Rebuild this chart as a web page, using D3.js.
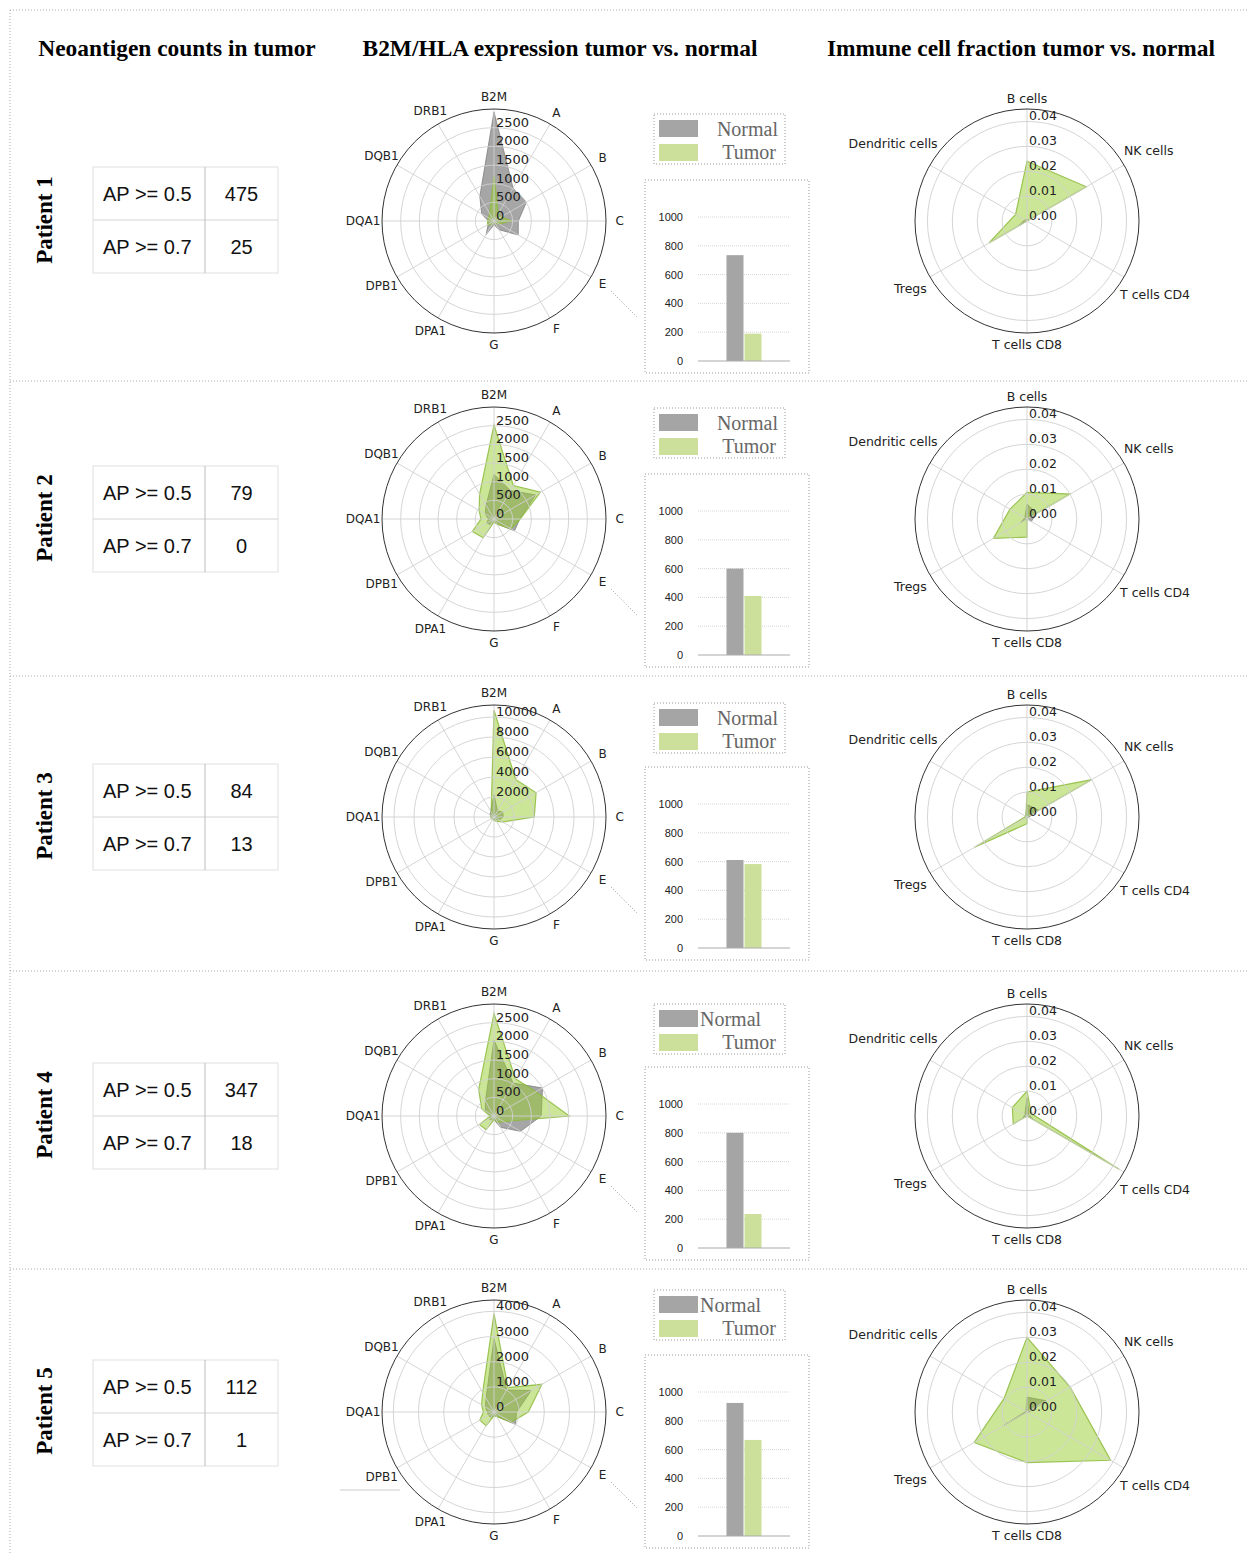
<!DOCTYPE html>
<html>
<head>
<meta charset="utf-8">
<script src="https://cdn.jsdelivr.net/npm/d3@7"></script>
<style>
  body { margin: 0; background: #fff; }
  svg { display: block; }
</style>
</head>
<body>
<svg id="chart" width="1250" height="1554"></svg>
<script>
// ---- data ----
const patients = ["Patient 1", "Patient 2", "Patient 3", "Patient 4", "Patient 5"];
const apLabels = ["AP >= 0.5", "AP >= 0.7"];
const neoAp05 = [475, 79, 84, 347, 112];
const neoAp07 = [25, 0, 13, 18, 1];

const hlaGenes = ["B2M", "A", "B", "C", "E", "F", "G", "DPA1", "DPB1", "DQA1", "DQB1", "DRB1"];
const hlaNormal = [
  [2920, 1020, 1000, 650, 750, 270, 100, 420, 180, 150, 380, 760],
  [1195, 880, 1290, 690, 635, 150, 80, 180, 220, 150, 270, 425],
  [2230, 700, 1000, 930, 600, 300, 250, 200, 200, 300, 450, 650],
  [2035, 1020, 1500, 1265, 820, 350, 100, 130, 150, 100, 270, 460],
  [2920, 1010, 1710, 900, 980, 200, 150, 260, 260, 260, 400, 630]
];
const hlaTumor = [
  [1210, 230, 220, 470, 150, 80, 60, 100, 200, 170, 170, 230],
  [2520, 1035, 1435, 700, 530, 150, 80, 580, 670, 350, 460, 770],
  [10670, 4340, 4860, 4030, 1000, 500, 330, 300, 300, 330, 300, 570],
  [2745, 1150, 1300, 2020, 300, 200, 100, 425, 450, 100, 380, 820],
  [3910, 1115, 2200, 1360, 800, 200, 150, 630, 650, 420, 570, 900]
];
const hlaMax = [3000, 3000, 11200, 3000, 4450];
const hlaTicks = [
  [0, 500, 1000, 1500, 2000, 2500],
  [0, 500, 1000, 1500, 2000, 2500],
  [2000, 4000, 6000, 8000, 10000],
  [0, 500, 1000, 1500, 2000, 2500],
  [0, 1000, 2000, 3000, 4000]
];

const barGroups = ["Normal", "Tumor"];
const barNormal = [735, 600, 611, 800, 924];
const barTumor = [190, 410, 583, 236, 667];
const barTicks = [0, 200, 400, 600, 800, 1000];

const immuneCells = ["B cells", "NK cells", "T cells CD4", "T cells CD8", "Tregs", "Dendritic cells"];
const immuneNormal = [
  [0.0005, 0.001, 0.0, 0.0, 0.004, 0.001],
  [0.006, 0.0045, 0.002, 0.0, 0.003, 0.001],
  [0.005, 0.0055, 0.0005, 0.0, 0.0005, 0.0005],
  [0.0073, 0.001, 0.003, 0.0, 0.002, 0.001],
  [0.006, 0.009, 0.0005, 0.0, 0.0107, 0.0005]
];
const immuneTumor = [
  [0.024, 0.0275, 0.0, 0.0, 0.0176, 0.0053],
  [0.0107, 0.02, 0.0, 0.0073, 0.0156, 0.0079],
  [0.010, 0.030, 0.0, 0.0027, 0.0243, 0.0005],
  [0.010, 0.002, 0.0427, 0.0, 0.0064, 0.0068],
  [0.030, 0.020, 0.0388, 0.0203, 0.0245, 0.0107]
];
const immuneMax = 0.045;
const immuneTicks = [0, 0.01, 0.02, 0.03, 0.04];

// ---- layout ----
const rowCy = [221, 519, 817, 1116, 1412];
const tableTop = [167, 466, 764, 1063, 1360];
const legendTop = [114, 408, 703, 1004, 1290];
const barTop = [180, 474, 767, 1067, 1355];
const separators = [381, 676, 971, 1269];

const normalColor = "#808080";
const tumorColor = "#9acd32";
const barColors = { Normal: "#a5a5a5", Tumor: "#cde09b" };

const svg = d3.select("#chart");

// frame
const frame = svg.append("g")
  .attr("fill", "none")
  .attr("stroke", "#aaa")
  .attr("stroke-width", 1)
  .attr("stroke-dasharray", "1,2");
frame.append("line").attr("x1", 10).attr("x2", 1248).attr("y1", 10).attr("y2", 10);
frame.append("line").attr("x1", 10).attr("x2", 10).attr("y1", 10).attr("y2", 1554);
frame.selectAll("line.sep")
  .data(separators)
  .join("line")
  .attr("class", "sep")
  .attr("x1", 10).attr("x2", 1248)
  .attr("y1", d => d).attr("y2", d => d);

// column titles
svg.append("g")
  .attr("font-family", "'Liberation Serif', 'Times New Roman', serif")
  .attr("font-weight", "bold")
  .attr("font-size", 23.4)
  .attr("text-anchor", "middle")
  .selectAll("text")
  .data([
    { t: "Neoantigen counts in tumor", x: 177 },
    { t: "B2M/HLA expression tumor vs. normal", x: 560 },
    { t: "Immune cell fraction tumor vs. normal", x: 1021 }
  ])
  .join("text")
  .attr("x", d => d.x)
  .attr("y", 56)
  .text(d => d.t);

function radar(g, cx, cy, cats, normal, tumor, rMax, ticks, o) {
  const R = 112;
  const r = d3.scaleLinear().domain([0, rMax]).range([0, R]);
  const ang = i => (i * 2 * Math.PI) / cats.length;
  const line = d3.lineRadial()
    .angle((d, i) => ang(i))
    .radius(d => r(d))
    .curve(d3.curveLinearClosed);

  const root = g.append("g").attr("transform", `translate(${cx},${cy})`);

  // fills
  root.append("path")
    .attr("d", line(normal))
    .attr("fill", normalColor).attr("fill-opacity", 0.7)
    .attr("stroke", normalColor).attr("stroke-opacity", 0.8).attr("stroke-width", 1);
  root.append("path")
    .attr("d", line(tumor))
    .attr("fill", tumorColor).attr("fill-opacity", 0.5)
    .attr("stroke", "#8dbb3c").attr("stroke-opacity", 0.85).attr("stroke-width", 1.2);

  // grid
  root.selectAll("circle.ring")
    .data(ticks.filter(t => t > 0))
    .join("circle")
    .attr("class", "ring")
    .attr("r", d => r(d))
    .attr("fill", "none")
    .attr("stroke", "#d0d0d0")
    .attr("stroke-width", 0.9);
  root.selectAll("line.spoke")
    .data(cats)
    .join("line")
    .attr("class", "spoke")
    .attr("x1", 0).attr("y1", 0)
    .attr("x2", (d, i) => R * Math.sin(ang(i)))
    .attr("y2", (d, i) => -R * Math.cos(ang(i)))
    .attr("stroke", "#d0d0d0")
    .attr("stroke-width", 0.9);
  root.append("circle")
    .attr("r", R)
    .attr("fill", "none")
    .attr("stroke", "#333")
    .attr("stroke-width", 1);

  // category labels
  root.selectAll("text.cat")
    .data(cats)
    .join("text")
    .attr("class", "cat")
    .attr("font-family", "'DejaVu Sans', sans-serif")
    .attr("font-size", o.catSize)
    .attr("fill", "#222")
    .attr("text-anchor", "middle")
    .attr("dominant-baseline", "central")
    .text(d => d)
    .each(function (d, i) {
      const w = this.getComputedTextLength();
      const a = ang(i);
      const rr = o.labelR + o.widthFactor * (w / 2) * Math.abs(Math.sin(a));
      d3.select(this)
        .attr("x", rr * Math.sin(a))
        .attr("y", -rr * Math.cos(a));
    });

  // radial tick labels
  root.selectAll("text.tick")
    .data(ticks)
    .join("text")
    .attr("class", "tick")
    .attr("font-family", "'DejaVu Sans', sans-serif")
    .attr("font-size", o.tickSize)
    .attr("fill", "#222")
    .attr("x", 2)
    .attr("y", d => -r(d) - 1)
    .text(o.fmt);
}

const hlaLayer = svg.append("g");
const immuneLayer = svg.append("g");
const leftLayer = svg.append("g");
const barLayer = svg.append("g");

patients.forEach((p, k) => {
  const cy = rowCy[k];

  // patient label
  leftLayer.append("text")
    .attr("transform", `translate(52,${cy - 1}) rotate(-90)`)
    .attr("font-family", "'Liberation Serif', 'Times New Roman', serif")
    .attr("font-weight", "bold")
    .attr("font-size", 23)
    .attr("text-anchor", "middle")
    .text(p);

  // table
  const tx = 93, tw = 185, th = 106, tcol = 205;
  const t0 = tableTop[k];
  const tbl = leftLayer.append("g");
  tbl.append("rect")
    .attr("x", tx).attr("y", t0).attr("width", tw).attr("height", th)
    .attr("fill", "none").attr("stroke", "#e0e0e0");
  tbl.append("line")
    .attr("x1", tx).attr("x2", tx + tw).attr("y1", t0 + th / 2).attr("y2", t0 + th / 2)
    .attr("stroke", "#d4d4d4");
  tbl.append("line")
    .attr("x1", tcol).attr("x2", tcol).attr("y1", t0).attr("y2", t0 + th)
    .attr("stroke", "#bdbdbd");
  const vals = [neoAp05[k], neoAp07[k]];
  tbl.selectAll("text.lab")
    .data(apLabels)
    .join("text")
    .attr("class", "lab")
    .attr("x", 103)
    .attr("y", (d, i) => t0 + th / 4 + (i * th) / 2 + 7)
    .attr("font-family", "'Liberation Sans', Arial, sans-serif")
    .attr("font-size", 20)
    .attr("fill", "#111")
    .text(d => d);
  tbl.selectAll("text.val")
    .data(vals)
    .join("text")
    .attr("class", "val")
    .attr("x", (tcol + tx + tw) / 2)
    .attr("y", (d, i) => t0 + th / 4 + (i * th) / 2 + 7)
    .attr("text-anchor", "middle")
    .attr("font-family", "'Liberation Sans', Arial, sans-serif")
    .attr("font-size", 20)
    .attr("fill", "#111")
    .text(d => d);

  // HLA radar
  radar(hlaLayer, 494, cy, hlaGenes, hlaNormal[k], hlaTumor[k], hlaMax[k], hlaTicks[k], {
    catSize: 12, tickSize: 13, labelR: 124, widthFactor: 0.4, fmt: d => d
  });

  // immune radar
  radar(immuneLayer, 1027, cy, immuneCells, immuneNormal[k], immuneTumor[k], immuneMax, immuneTicks, {
    catSize: 12.5, tickSize: 12.5, labelR: 123, widthFactor: 0.82, fmt: d3.format(".2f")
  });

  // connector from "E" to the bar panel
  barLayer.append("line")
    .attr("x1", 494 + 117).attr("y1", cy + 70)
    .attr("x2", 494 + 143).attr("y2", cy + 96)
    .attr("stroke", "#999").attr("stroke-dasharray", "1,2");

  // legend
  const lt = legendTop[k];
  const lg = barLayer.append("g");
  lg.append("rect")
    .attr("x", 654).attr("y", lt).attr("width", 131).attr("height", 50)
    .attr("fill", "none").attr("stroke", "#999").attr("stroke-dasharray", "1,2");
  lg.selectAll("rect.sw")
    .data(barGroups)
    .join("rect")
    .attr("class", "sw")
    .attr("x", 659)
    .attr("y", (d, i) => lt + 6 + i * 24)
    .attr("width", 39).attr("height", 17)
    .attr("fill", d => barColors[d]);
  const leftAligned = k >= 3;
  lg.selectAll("text")
    .data(barGroups)
    .join("text")
    .attr("x", (d, i) => (leftAligned && i === 0 ? 700 : 778 - i * 2))
    .attr("y", (d, i) => lt + 22 + i * 23)
    .attr("text-anchor", (d, i) => (leftAligned && i === 0 ? "start" : "end"))
    .attr("font-family", "'Liberation Serif', 'Times New Roman', serif")
    .attr("font-size", 20)
    .attr("fill", "#666")
    .text(d => d);

  // bar panel
  const bt = barTop[k];
  const bg = barLayer.append("g");
  bg.append("rect")
    .attr("x", 645).attr("y", bt).attr("width", 164).attr("height", 193)
    .attr("fill", "none").attr("stroke", "#999").attr("stroke-dasharray", "1,2");
  const x = d3.scaleBand().domain(barGroups).range([698, 790])
    .paddingInner(0.056).paddingOuter(1.58);
  const y = d3.scaleLinear().domain([0, 1000]).range([bt + 181, bt + 37]);
  bg.selectAll("line.grid")
    .data(barTicks.filter(t => t > 0))
    .join("line")
    .attr("class", "grid")
    .attr("x1", 698).attr("x2", 790)
    .attr("y1", d => y(d)).attr("y2", d => y(d))
    .attr("stroke", "#ccc").attr("stroke-dasharray", "1,1").attr("stroke-width", 0.8);
  const axis = bg.append("g")
    .attr("transform", "translate(689,0)")
    .call(d3.axisLeft(y).tickValues(barTicks).tickSize(0).tickPadding(6).tickFormat(d3.format("d")));
  axis.select(".domain").remove();
  axis.selectAll("text")
    .attr("font-family", "'Liberation Sans', Arial, sans-serif")
    .attr("font-size", 11)
    .attr("fill", "#222");
  const vals2 = [barNormal[k], barTumor[k]];
  bg.selectAll("rect.bar")
    .data(barGroups)
    .join("rect")
    .attr("class", "bar")
    .attr("x", d => x(d))
    .attr("width", x.bandwidth())
    .attr("y", (d, i) => y(vals2[i]))
    .attr("height", (d, i) => y(0) - y(vals2[i]))
    .attr("fill", d => barColors[d]);
  bg.append("line")
    .attr("x1", 698).attr("x2", 790)
    .attr("y1", y(0)).attr("y2", y(0))
    .attr("stroke", "#aaa").attr("stroke-width", 1);
});

// stray rule next to the last radar
svg.append("line")
  .attr("x1", 340).attr("x2", 400).attr("y1", 1490).attr("y2", 1490)
  .attr("stroke", "#ccc");
</script>
</body>
</html>
